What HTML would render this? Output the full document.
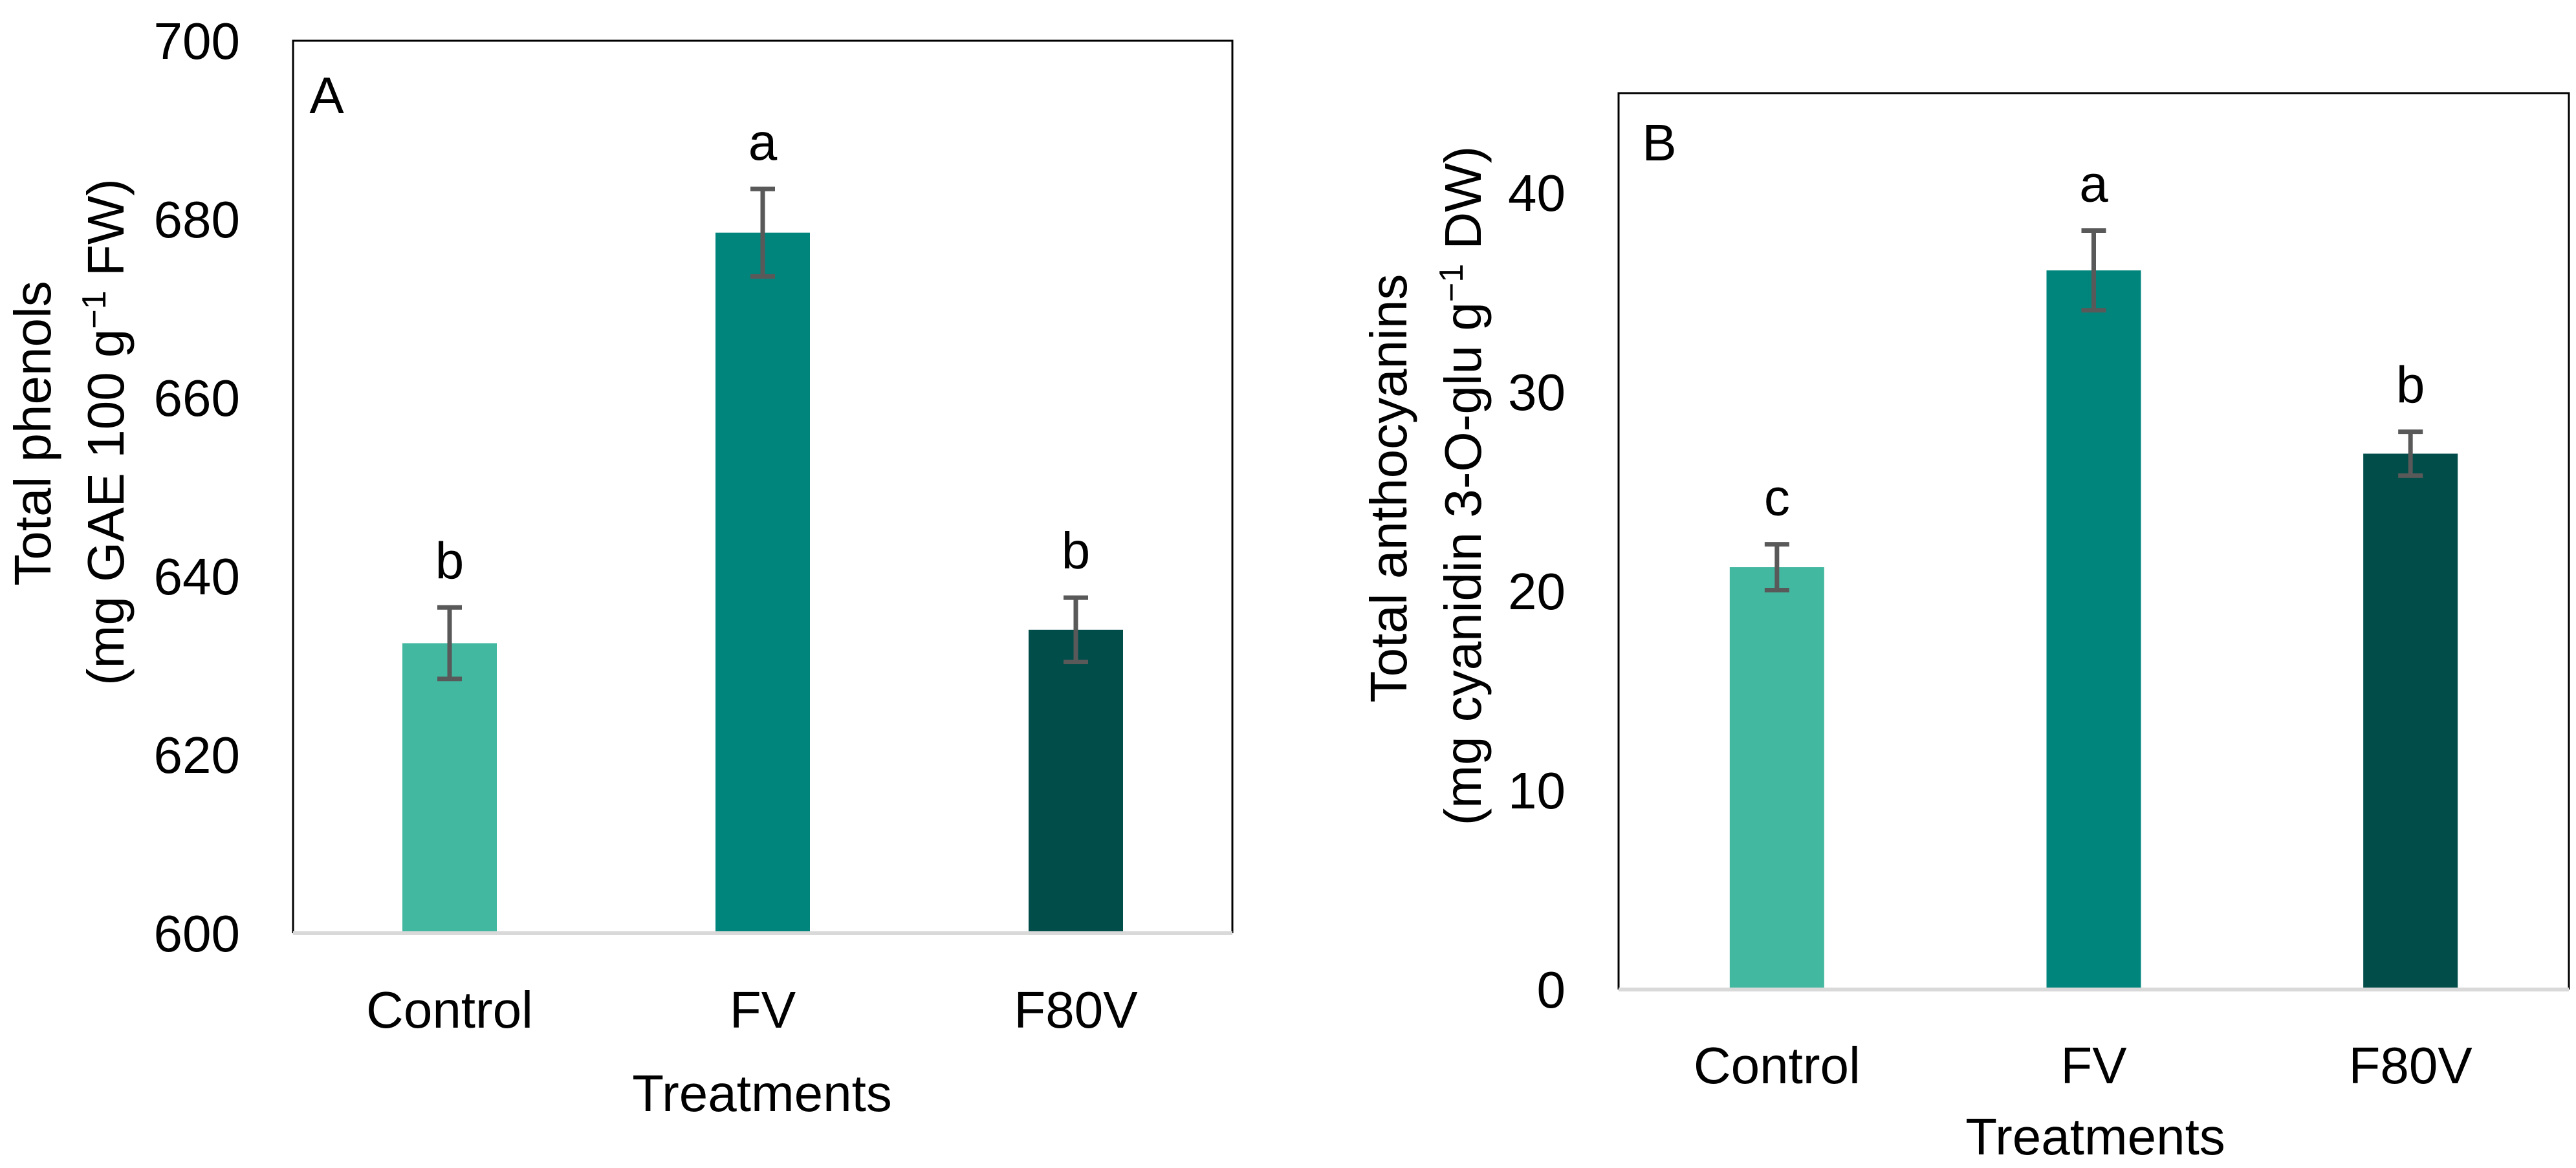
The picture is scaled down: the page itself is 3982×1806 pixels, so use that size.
<!DOCTYPE html>
<html><head><meta charset="utf-8"><style>
html,body{margin:0;padding:0;background:#fff;}
svg{display:block;font-family:"Liberation Sans",sans-serif;}
</style></head><body>
<svg id="chart" width="3982" height="1806" viewBox="0 0 3982 1806" xmlns="http://www.w3.org/2000/svg"></svg>
<script>
const categories = ["Control","FV","F80V"];
const colors = ["#43b8a0","#00857d","#004d4a"];
const valuesA = [632.5, 678.5, 634.0];
const errorsA = [4.0, 4.9, 3.6];
const lettersA = ["b","a","b"];
const ticksA = [600,620,640,660,680,700];
const valuesB = [21.2, 36.1, 26.9];
const errorsB = [1.15, 2.0, 1.1];
const lettersB = ["c","a","b"];
const ticksB = [0,10,20,30,40];

const NS="http://www.w3.org/2000/svg";
const svg=document.getElementById('chart');
function mk(tag,attrs,parent){const e=document.createElementNS(NS,tag);for(const k in attrs)e.setAttribute(k,attrs[k]);(parent||svg).appendChild(e);return e;}

function panel(cfg){
  const g=mk('g',{});
  
  
  const y=v=>cfg.bottom-(v-cfg.min)/(cfg.max-cfg.min)*(cfg.bottom-cfg.top);
  const frame=mk('path',{d:`M${cfg.left},${cfg.bottom} V${cfg.top} H${cfg.right} V${cfg.bottom}`,fill:'none',stroke:'#000','stroke-width':3},g);
  
  
  cfg.ticks.forEach(t=>{
    const tx=mk('text',{x:cfg.tickRight,y:y(t)+28,'font-size':80,'text-anchor':'end',fill:'#000'},g);
    tx.textContent=t;
    
    
  });
  const slot=(cfg.right-cfg.left)/categories.length;
  categories.forEach((c,i)=>{
    const cx=cfg.left+slot*(i+0.5);
    const v=cfg.values[i], e=cfg.errors[i];
    const bar=mk('rect',{x:cx-73,y:y(v),width:146,height:cfg.bottom-y(v),fill:colors[i]},g);
    
    
    const eb=mk('path',{d:`M${cx},${y(v+e)} V${y(v-e)} M${cx-19},${y(v+e)} H${cx+19} M${cx-19},${y(v-e)} H${cx+19}`,stroke:'#595959','stroke-width':7,fill:'none'},g);
    
    
    const lt=mk('text',{x:cx,y:y(v+e)-45,'font-size':80,'text-anchor':'middle',fill:'#000'},g);
    lt.textContent=cfg.letters[i];
    
    
    const cl=mk('text',{x:cx,y:cfg.catY,'font-size':80,'text-anchor':'middle',fill:'#000'},g);
    cl.textContent=c;
    
    
  });
  const ax=mk('line',{x1:cfg.left,x2:cfg.right,y1:cfg.bottom,y2:cfg.bottom,stroke:'#d9d9d9','stroke-width':6},g);
  
  
  return g;
}

panel({name:'panel-a',left:453,right:1905,top:63,bottom:1443,min:600,max:700,ticks:ticksA,tickRight:371,values:valuesA,errors:errorsA,letters:lettersA,catY:1589});
panel({name:'panel-b',left:2502,right:3971,top:144,bottom:1530,min:0,max:45,ticks:ticksB,tickRight:2420,values:valuesB,errors:errorsB,letters:lettersB,catY:1675});
</script>
<script>
(function(){
const NS="http://www.w3.org/2000/svg";const svg=document.getElementById('chart');
function t(attrs,html,name){const e=document.createElementNS(NS,'text');for(const k in attrs)e.setAttribute(k,attrs[k]);e.innerHTML=html;


svg.appendChild(e);return e;}
t({x:505,y:175,'font-size':80,'text-anchor':'middle'},'A','panel-label-a');
t({x:2565,y:248,'font-size':80,'text-anchor':'middle'},'B','panel-label-b');
t({x:1178,y:1718,'font-size':80,'text-anchor':'middle'},'Treatments','x-axis-title-a');
t({x:3239,y:1785,'font-size':80,'text-anchor':'middle'},'Treatments','x-axis-title-b');
t({x:0,y:0,'font-size':80,'text-anchor':'middle',transform:'translate(78,670) rotate(-90)'},'Total phenols','y-axis-title-a-line1');
t({x:0,y:0,'font-size':80,'text-anchor':'middle',transform:'translate(191,668) rotate(-90)'},'(mg GAE 100 g<tspan dy="-28" font-size="52">−1</tspan><tspan dy="28"> FW)</tspan>','y-axis-title-a-line2');
t({x:0,y:0,'font-size':80,'text-anchor':'middle',transform:'translate(2174,755) rotate(-90)'},'Total anthocyanins','y-axis-title-b-line1');
t({x:0,y:0,'font-size':80,'text-anchor':'middle',transform:'translate(2289,751) rotate(-90)'},'(mg cyanidin 3-O-glu g<tspan dy="-28" font-size="52">−1</tspan><tspan dy="28"> DW)</tspan>','y-axis-title-b-line2');
})();
</script>
</body></html>
